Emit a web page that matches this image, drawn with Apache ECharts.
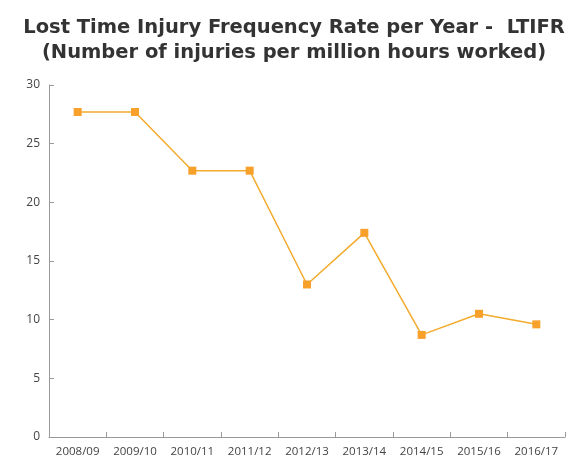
<!DOCTYPE html>
<html><head><meta charset="utf-8">
<script src="https://cdn.jsdelivr.net/npm/echarts@6/dist/echarts.min.js"></script>
<style>html,body{margin:0;padding:0;background:#fff}#c{width:566px;height:463px}</style>
</head><body><div id="c"></div>
<script>
const titleLines = ['Lost Time Injury Frequency Rate per Year -  LTIFR', '(Number of injuries per million hours worked)'];
const categories = ['2008/09','2009/10','2010/11','2011/12','2012/13','2013/14','2014/15','2015/16','2016/17'];
const ltifr = [27.7, 27.7, 22.7, 22.7, 13.0, 17.4, 8.7, 10.5, 9.6];
const yTicks = [0, 5, 10, 15, 20, 25, 30];

const chart = echarts.init(document.getElementById('c'));
chart.setOption({
  animation: false,
  title: {
    text: titleLines.join('\n'),
    left: 289, top: 10, textAlign: 'center',
    textStyle: {fontFamily: 'DejaVu Sans', fontWeight: 'bold', fontSize: 19.5, lineHeight: 25, color: '#333'}
  },
  grid: {left: 49, right: 1, top: 85, bottom: 26},
  xAxis: {
    type: 'category', data: categories, boundaryGap: true,
    axisLine: {lineStyle: {color: '#999', width: 1}},
    axisTick: {show: true, inside: true, length: 5, lineStyle: {color: '#999'}},
    axisLabel: {color: '#444', fontSize: 11.5, fontFamily: 'Open Sans', margin: 9}
  },
  yAxis: {
    type: 'value', min: yTicks[0], max: yTicks[yTicks.length-1], interval: 5,
    axisLine: {show: true, lineStyle: {color: '#999'}},
    axisTick: {show: true, inside: true, length: 5, lineStyle: {color: '#999'}},
    splitLine: {show: false},
    axisLabel: {color: '#444', fontSize: 12, fontFamily: 'Open Sans', margin: 9}
  },
  series: [{
    type: 'line', data: ltifr,
    symbol: 'rect', symbolSize: 8,
    lineStyle: {color: '#f3ab2e', width: 1.5},
    itemStyle: {color: '#f7a02a'}
  }]
});
</script></body></html>
